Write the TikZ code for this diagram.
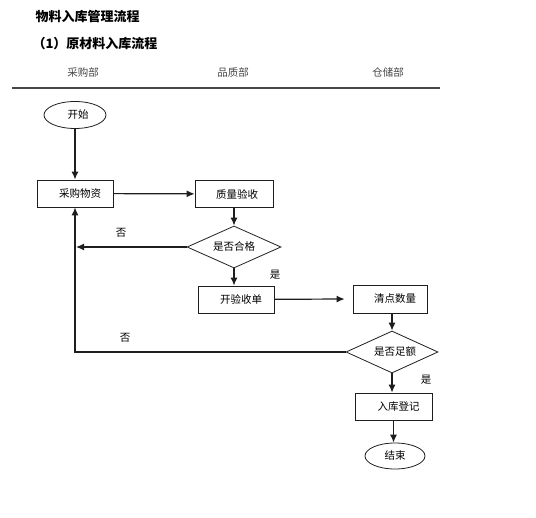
\documentclass[tikz,border=0pt]{standalone}
\usepackage{fontspec}
\setmainfont{Noto Sans CJK SC}
\usetikzlibrary{shapes.geometric,arrows.meta}

\definecolor{linecol}{RGB}{30, 30, 30}
\definecolor{headcol}{RGB}{70, 70, 70}

\begin{document}
\begin{tikzpicture}[x=1pt, y=-1pt, font=\fontsize{10.5}{12}\selectfont,
    stepbox/.style={draw=linecol, line width=0.8pt, minimum width=76pt, minimum height=27pt, inner sep=0pt},
    terminal/.style={draw=linecol, line width=0.8pt, ellipse, minimum width=62pt, minimum height=27pt, inner sep=0pt},
    decide/.style={draw=linecol, line width=0.8pt, diamond, aspect=2.2, minimum width=94pt, minimum height=42pt, inner sep=0pt},
    arr/.style={draw=linecol, line width=1.2pt, -{Latex[length=8pt,width=7pt]}},
    tag/.style={font=\fontsize{10.5}{12}\selectfont}]
        \useasboundingbox (0,0) rectangle (536,518);

        % Titles
        \node[anchor=west, font=\fontsize{13}{15}\selectfont\bfseries] (title) at (32,17) {物料入库管理流程};
        \node[anchor=west, font=\fontsize{13}{15}\selectfont\bfseries] (subtitle) at (29,44) {（1）原材料入库流程};

        % Lanes
        \node[text=headcol] (laneA) at (83,72) {采购部};
        \node[text=headcol] (laneB) at (233,72) {品质部};
        \node[text=headcol] (laneC) at (388,72) {仓储部};
        \draw[headcol, line width=1.6pt] (12,88) -- (440,88);

        % Steps
        \node[terminal] (start) at (75,115) {\hspace{6pt}开始};
        \node[stepbox] (buy) at (75,193.5) {\hspace{10pt}采购物资};
        \node[stepbox, minimum width=78pt] (qc) at (234,194) {\hspace{6pt}质量验收};
        \node[decide] (ok) at (234,247) {是否合格};
        \node[stepbox] (bill) at (236,299.5) {\hspace{10pt}开验收单};
        \node[stepbox, minimum width=74pt, minimum height=28pt] (count) at (390,299) {\hspace{10pt}清点数量};
        \node[decide, minimum width=92pt] (enough) at (392,352) {\hspace{6pt}是否足额};
        \node[stepbox, minimum width=77pt] (store) at (393.5,406.5) {\hspace{10pt}入库登记};
        \node[terminal, minimum width=60pt, minimum height=26pt] (finish) at (395,456) {结束};

        % Connectors
        \draw[arr] (start) -- (buy);
        \draw[arr] (buy) -- (qc);
        \draw[arr] (qc) -- (ok);
        \draw[arr] (ok.west) -- ([xshift=1pt]ok.west -| buy.south);
        \draw[arr] (ok) -- (ok |- bill.north);
        \draw[arr] (bill) -- ([xshift=-8pt]count.west);
        \draw[arr] (count.south -| enough) -- (enough.north);
        \draw[arr] (enough.west) -| (buy.south);
        \draw[arr] (enough.south) -- (enough.south |- store.north);
        \draw[arr] (store.south) -- (store.south |- finish.north);

        % Branch labels
        \node[tag] (noA) at (121,233) {否};
        \node[tag] (yesA) at (275,275) {是};
        \node[tag] (noB) at (125,338) {否};
        \node[tag] (yesB) at (426,380) {是};
\end{tikzpicture}
\end{document}
